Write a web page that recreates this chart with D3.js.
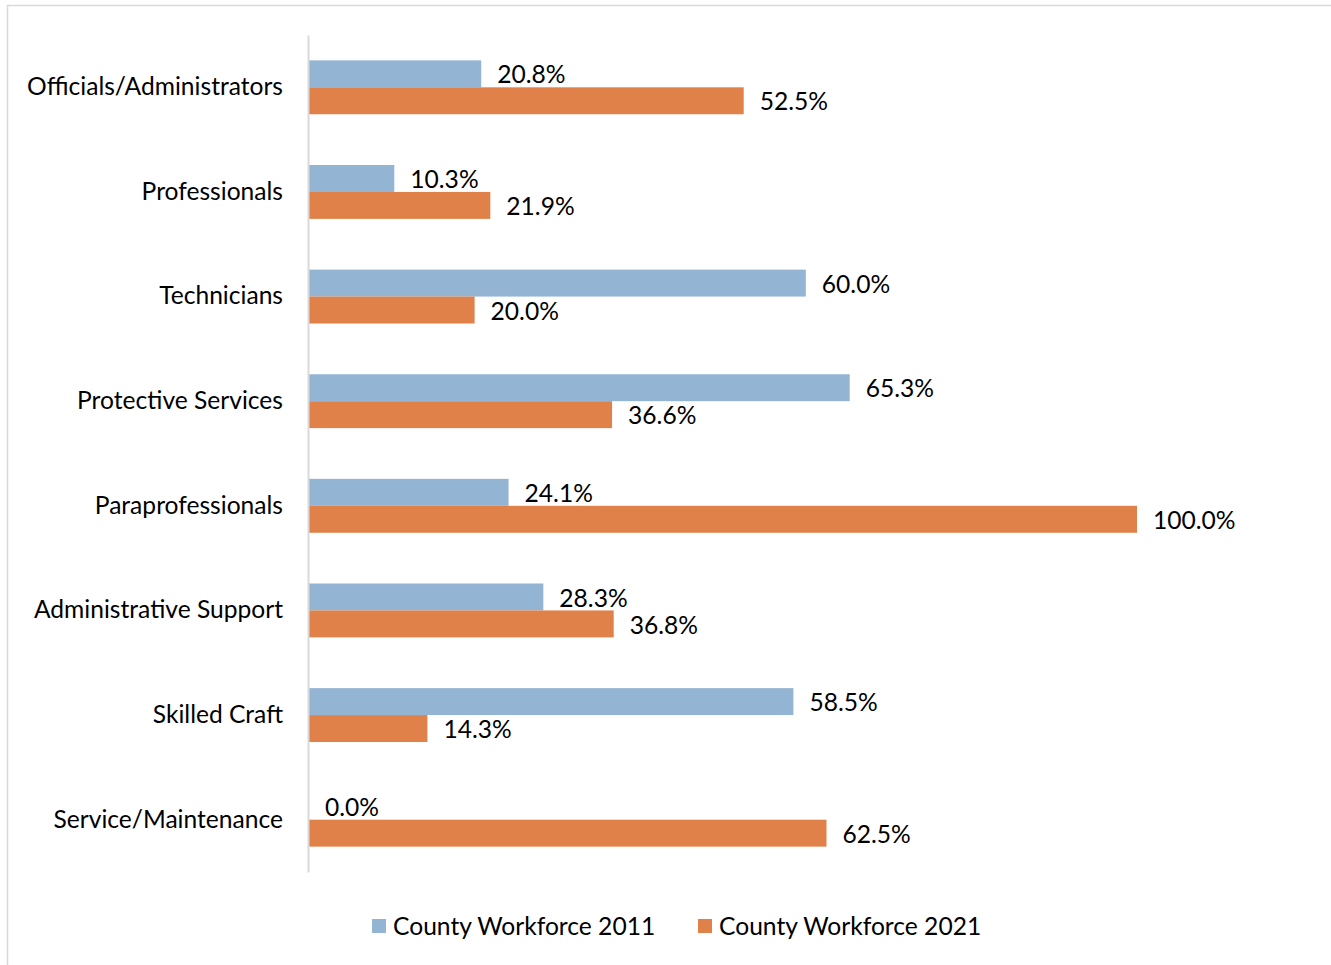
<!DOCTYPE html>
<html>
<head>
<meta charset="utf-8">
<script src="https://cdn.jsdelivr.net/npm/d3@7"></script>
<style>
  html, body { margin: 0; padding: 0; background: #fff; }
  svg { display: block; }
  text { font-family: Lato, "Open Sans", sans-serif; fill: #000; }
</style>
</head>
<body>
<svg id="chart" width="1331" height="965"></svg>
<script>
// Occupational categories, top to bottom
const categories = [
  "Officials/Administrators",
  "Professionals",
  "Technicians",
  "Protective Services",
  "Paraprofessionals",
  "Administrative Support",
  "Skilled Craft",
  "Service/Maintenance"
];

// Percentage values per series
const workforce2011 = [20.8, 10.3, 60.0, 65.3, 24.1, 28.3, 58.5, 0.0];
const workforce2021 = [52.5, 21.9, 20.0, 36.6, 100.0, 36.8, 14.3, 62.5];

const seriesNames = ["County Workforce 2011", "County Workforce 2021"];
const seriesColors = ["#94b4d4", "#df8149"];

const series = [workforce2011, workforce2021];
const rows = categories.map((c, i) => ({
  category: c,
  values: series.map((s, k) => ({ key: seriesNames[k], value: s[i], color: seriesColors[k] }))
}));

const svg = d3.select("#chart");
const W = 1331, H = 965;
const fontSize = 24.6;

// Chart frame (continues past the right and bottom edges)
svg.append("rect")
  .attr("x", 7.5).attr("y", 5.5)
  .attr("width", W + 10).attr("height", H + 10)
  .attr("fill", "#fff")
  .attr("stroke", "#d9d9d9")
  .attr("stroke-width", 1.5);

const plot = { left: 309, right: 1137, top: 35, bottom: 872 };

const x = d3.scaleLinear().domain([0, 100]).range([plot.left, plot.right]);
const y = d3.scaleBand().domain(categories).range([plot.top, plot.bottom])
  .paddingInner(0.485).paddingOuter(0.2425);
const ySub = d3.scaleBand().domain(seriesNames).range([0, y.bandwidth()]);

// Bars
const groups = svg.append("g").selectAll("g.row")
  .data(rows).join("g")
  .attr("class", "row")
  .attr("transform", d => `translate(0,${y(d.category)})`);

groups.selectAll("rect")
  .data(d => d.values).join("rect")
  .attr("x", x(0))
  .attr("y", d => ySub(d.key))
  .attr("width", d => x(d.value) - x(0))
  .attr("height", ySub.bandwidth())
  .attr("fill", d => d.color);

// Value labels
groups.selectAll("text.val")
  .data(d => d.values).join("text")
  .attr("class", "val")
  .attr("x", d => x(d.value) + 16)
  .attr("y", d => ySub(d.key) + ySub.bandwidth() / 2 + 1)
  .attr("dy", "0.35em")
  .attr("font-size", fontSize)
  .text(d => d3.format(".1f")(d.value) + "%");

// Category axis
const yAxis = d3.axisLeft(y).tickSize(0).tickPadding(25);
const ag = svg.append("g")
  .attr("transform", `translate(${plot.left - 1},0)`)
  .call(yAxis);
ag.select(".domain").attr("stroke", "#d9d9d9").attr("stroke-width", 2);
ag.selectAll(".tick text")
  .attr("font-family", "Lato, 'Open Sans', sans-serif")
  .attr("font-size", fontSize)
  .attr("fill", "#000");

// Legend
const legendItems = [
  { name: seriesNames[0], color: seriesColors[0], x: 372 },
  { name: seriesNames[1], color: seriesColors[1], x: 698 }
];
const lg = svg.append("g").selectAll("g")
  .data(legendItems).join("g")
  .attr("transform", d => `translate(${d.x},926)`);
lg.append("rect")
  .attr("x", 0).attr("y", -7)
  .attr("width", 14).attr("height", 14)
  .attr("fill", d => d.color);
lg.append("text")
  .attr("x", 21).attr("dy", "0.35em")
  .attr("font-size", fontSize)
  .text(d => d.name);
</script>
</body>
</html>
